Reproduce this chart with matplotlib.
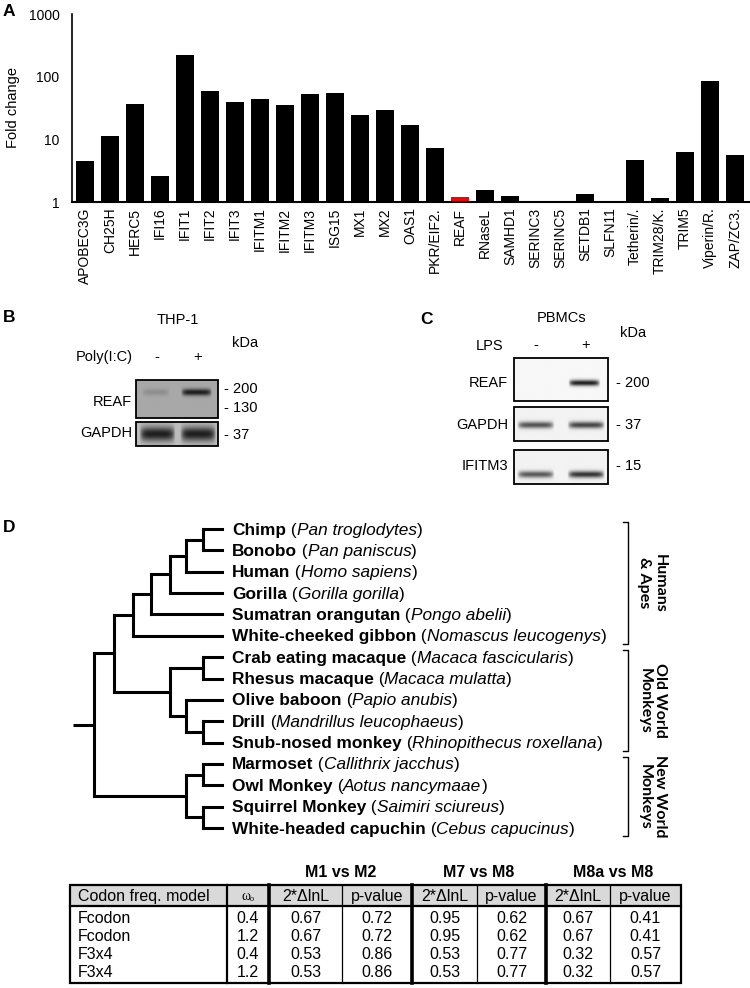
import numpy as np
import matplotlib.pyplot as plt
from matplotlib.patches import Rectangle

plt.rcParams['font.family'] = ['Liberation Sans', 'DejaVu Sans']

# ---- panel A: fold change of ISGs
genes = ['APOBEC3G', 'CH25H', 'HERC5', 'IFI16', 'IFIT1', 'IFIT2', 'IFIT3', 'IFITM1',
         'IFITM2', 'IFITM3', 'ISG15', 'MX1', 'MX2', 'OAS1', 'PKR/EIF2.', 'REAF',
         'RNaseL', 'SAMHD1', 'SERINC3', 'SERINC5', 'SETDB1', 'SLFN11', 'Tetherin/.',
         'TRIM28/K.', 'TRIM5', 'Viperin/R.', 'ZAP/ZC3.']
fold = [4.5, 11.5, 36, 2.6, 223, 59, 39, 44, 35, 52, 55, 24.6, 29, 16.8, 7.2, 1.2,
        1.58, 1.25, 1.02, 1.0, 1.34, 1.04, 4.67, 1.16, 6.3, 86, 5.7]
highlight = 'REAF'

# ---- panels B and C: blot band intensities (lane -, lane +)
thp1_reaf = [0.10, 0.55]
thp1_gapdh = [0.62, 0.62]
pbmc_reaf = [0.0, 0.85]
pbmc_gapdh = [0.62, 0.68]
pbmc_ifitm3 = [0.6, 0.75]

# ---- panel D: primate tree
common = ['Chimp', 'Bonobo', 'Human', 'Gorilla', 'Sumatran orangutan',
          'White-cheeked gibbon', 'Crab eating macaque', 'Rhesus macaque',
          'Olive baboon', 'Drill', 'Snub-nosed monkey', 'Marmoset', 'Owl Monkey',
          'Squirrel Monkey', 'White-headed capuchin']
latin = ['Pan troglodytes', 'Pan paniscus', 'Homo sapiens', 'Gorilla gorilla',
         'Pongo abelii', 'Nomascus leucogenys', 'Macaca fascicularis', 'Macaca mulatta',
         'Papio anubis', 'Mandrillus leucophaeus', 'Rhinopithecus roxellana',
         'Callithrix jacchus', 'Aotus nancymaae', 'Saimiri sciureus', 'Cebus capucinus']
hominoids = ((((('Chimp', 'Bonobo'), 'Human'), 'Gorilla'), 'Sumatran orangutan'),
             'White-cheeked gibbon')
old_world = (('Crab eating macaque', 'Rhesus macaque'),
             ('Olive baboon', ('Drill', 'Snub-nosed monkey')))
new_world = (('Marmoset', 'Owl Monkey'), ('Squirrel Monkey', 'White-headed capuchin'))
tree = ((hominoids, old_world), new_world)
groups = ['Humans\n& Apes', 'Old World\nMonkeys', 'New World\nMonkeys']
group_span = [(0, 5), (6, 10), (11, 14)]

# ---- table
col_head = ['Codon freq. model', '\u03c9\u2092', '2*\u0394lnL', 'p-value',
            '2*\u0394lnL', 'p-value', '2*\u0394lnL', 'p-value']
tests = ['M1 vs M2', 'M7 vs M8', 'M8a vs M8']
codon_model = ['Fcodon', 'Fcodon', 'F3x4', 'F3x4']
omega0 = [0.4, 1.2, 0.4, 1.2]
m1m2_lnl = [0.67, 0.67, 0.53, 0.53]
m1m2_p = [0.72, 0.72, 0.86, 0.86]
m7m8_lnl = [0.95, 0.95, 0.53, 0.53]
m7m8_p = [0.62, 0.62, 0.77, 0.77]
m8a_lnl = [0.67, 0.67, 0.32, 0.32]
m8a_p = [0.41, 0.41, 0.57, 0.57]

fig = plt.figure(figsize=(7.5, 9.88), dpi=100)
# full-figure canvas in pixel units for the non-chart panels
ax0 = fig.add_axes([0, 0, 1, 1])
ax0.set_xlim(0, 750)
ax0.set_ylim(988, 0)
ax0.axis('off')

W, H = 750, 988

# ---------------- A
ax = fig.add_axes([72 / W, 1 - 202 / H, (749 - 72) / W, (202 - 14) / H])
ax.set_facecolor('none')
x = np.arange(len(genes))
colors = ['#ff0000' if g == highlight else 'black' for g in genes]
ax.bar(x, np.array(fold) - 1, bottom=1, width=0.69, color=colors)
ax.set_yscale('log')
ax.set_ylim(1, 1000)
ax.set_xlim(-0.52, len(genes) - 0.44)
ax.set_yticks([1, 10, 100, 1000])
ax.set_yticklabels(['1', '10', '100', '1000'], fontsize=10)
ax.minorticks_off()
ax.set_xticks(x)
ax.set_xticklabels(genes, rotation=90, fontsize=10)
ax.tick_params(axis='y', length=0, pad=9)
ax.tick_params(axis='x', length=0, pad=4)
for s in ['top', 'right']:
    ax.spines[s].set_visible(False)
ax.spines['left'].set_linewidth(1.2)
ax.spines['bottom'].set_linewidth(1.5)
ax0.text(13, 108, 'Fold change', rotation=90, ha='center', va='center', fontsize=10.5)


def panel_letter(xp, yp, s):
    ax0.text(xp, yp, s, fontsize=12.5, fontweight='bold', ha='left', va='baseline')


panel_letter(3, 16, 'A')
panel_letter(3, 322, 'B')
panel_letter(420, 324, 'C')
panel_letter(3, 532, 'D')


def blot(x0, x1, y0, y1, bg, band_y, band_h, lanes, dark):
    h, w = 90, 180
    yy = np.linspace(0, 1, h)[:, None]
    xx = np.linspace(0, 1, w)[None, :]
    img = np.full((h, w), bg)
    for (c, half), d in zip(lanes, dark):
        xprof = np.clip(1 - ((xx - c) / half) ** 6, 0, 1)
        yprof = np.exp(-((yy - band_y) / band_h) ** 2)
        img = img - d * xprof * yprof
    ax0.imshow(img, cmap='gray', vmin=0, vmax=1, extent=(x0, x1, y1, y0),
               aspect='auto', interpolation='bilinear', zorder=1)
    ax0.add_patch(Rectangle((x0, y0), x1 - x0, y1 - y0, fill=False, lw=1.3,
                            ec='black', zorder=2))


# ---------------- B
fs = 10.5
ax0.text(178, 320, 'THP-1', ha='center', va='center', fontsize=fs)
ax0.text(232, 343, 'kDa', ha='left', va='center', fontsize=fs)
ax0.text(133, 357, 'Poly(I:C)', ha='right', va='center', fontsize=fs)
ax0.text(157, 357, '-', ha='center', va='center', fontsize=fs)
ax0.text(198, 357, '+', ha='center', va='center', fontsize=fs)
blot(136, 218, 380, 418, 0.66, 0.32, 0.09, [(0.24, 0.17), (0.74, 0.19)], thp1_reaf)
blot(136, 218, 422, 446, 0.74, 0.5, 0.3, [(0.26, 0.22), (0.76, 0.22)], thp1_gapdh)
ax0.text(132, 402, 'REAF', ha='right', va='center', fontsize=fs)
ax0.text(132, 433, 'GAPDH', ha='right', va='center', fontsize=fs)
ax0.text(224, 389, '- 200', ha='left', va='center', fontsize=fs)
ax0.text(224, 408, '- 130', ha='left', va='center', fontsize=fs)
ax0.text(224, 435, '- 37', ha='left', va='center', fontsize=fs)

# ---------------- C
ax0.text(562, 318, 'PBMCs', ha='center', va='center', fontsize=fs)
ax0.text(620, 333, 'kDa', ha='left', va='center', fontsize=fs)
ax0.text(490, 346, 'LPS', ha='center', va='center', fontsize=fs)
ax0.text(536, 345, '-', ha='center', va='center', fontsize=fs)
ax0.text(586, 345, '+', ha='center', va='center', fontsize=fs)
blot(514, 608, 358, 401, 0.97, 0.58, 0.07, [(0.25, 0.2), (0.75, 0.17)], pbmc_reaf)
blot(514, 608, 407, 441, 0.95, 0.53, 0.1, [(0.23, 0.2), (0.77, 0.2)], pbmc_gapdh)
blot(514, 608, 450, 484, 0.95, 0.72, 0.1, [(0.23, 0.2), (0.77, 0.2)], pbmc_ifitm3)
ax0.text(508, 383, 'REAF', ha='right', va='center', fontsize=fs)
ax0.text(508, 425, 'GAPDH', ha='right', va='center', fontsize=fs)
ax0.text(508, 466, 'IFITM3', ha='right', va='center', fontsize=fs)
ax0.text(616, 383, '- 200', ha='left', va='center', fontsize=fs)
ax0.text(616, 425, '- 37', ha='left', va='center', fontsize=fs)
ax0.text(616, 466, '- 15', ha='left', va='center', fontsize=fs)

# ---------------- D  tree
leaf_y = {name: 529 + i * 21.36 for i, name in enumerate(common)}
node_x = [222, 203, 186, 170, 151, 133, 114, 94]
tlw = 2.2


def draw(node):
    if isinstance(node, str):
        return leaf_y[node], 0
    res = [draw(c) for c in node]
    ys = [r[0] for r in res]
    h = max(r[1] for r in res) + 1
    xn = node_x[h]
    for yc, hc in res:
        ax0.plot([xn, node_x[hc]], [yc, yc], color='black', lw=tlw,
                 solid_capstyle='projecting')
    ax0.plot([xn, xn], [min(ys), max(ys)], color='black', lw=tlw,
             solid_capstyle='projecting')
    return (min(ys) + max(ys)) / 2, h


root_y, root_h = draw(tree)
ax0.plot([73, node_x[root_h]], [root_y, root_y], color='black', lw=tlw,
         solid_capstyle='butt')

renderer = fig.canvas.get_renderer()


def rich(xp, yp, parts, size):
    for s, style in parts:
        t = ax0.text(xp, yp, s, fontsize=size, ha='left', va='baseline',
                     fontweight='bold' if style == 'b' else 'normal',
                     fontstyle='italic' if style == 'i' else 'normal')
        xp += t.get_window_extent(renderer=renderer).width


for name, lat in zip(common, latin):
    rich(232, leaf_y[name] + 5.5,
         [(name, 'b'), (' (', 'r'), (lat, 'i'), (')', 'r')], 12.4)

for lab, (a, b) in zip(groups, group_span):
    y0 = leaf_y[common[a]] - 7
    y1 = leaf_y[common[b]] + 8
    ax0.plot([623, 628, 628, 623], [y0, y0, y1, y1], color='black', lw=1.0)
    ax0.text(652, (y0 + y1) / 2, lab, rotation=270, ha='center', va='center',
             multialignment='center', fontsize=11.5, fontweight='bold',
             family=['Lato', 'DejaVu Sans'], linespacing=1.1)

# ---------------- table
cx = [70, 227, 269, 342, 412, 477, 546, 610, 681]
top, head_bot, bot = 885, 906, 983
row_y = [918, 936, 954, 972]
tfs = 11.5

for i, t in enumerate(tests):
    ax0.text((cx[2 + 2 * i] + cx[4 + 2 * i]) / 2, 872, t, ha='center', va='center',
             fontsize=11.5, fontweight='bold')

ax0.add_patch(Rectangle((cx[0], top), cx[-1] - cx[0], head_bot - top,
                        fc='#d9d9d9', ec='none', zorder=1))
for j, h in enumerate(col_head):
    hy = (top + head_bot) / 2 + 1
    if j == 0:
        ax0.text(cx[0] + 8, hy, h, ha='left', va='center', fontsize=tfs)
    elif j == 1:
        ax0.text((cx[j] + cx[j + 1]) / 2, hy, h, ha='center', va='center', fontsize=10,
                 family=['Liberation Serif', 'DejaVu Serif', 'DejaVu Sans'])
    else:
        ax0.text((cx[j] + cx[j + 1]) / 2, hy, h, ha='center', va='center', fontsize=tfs)

cols = [m1m2_lnl, m1m2_p, m7m8_lnl, m7m8_p, m8a_lnl, m8a_p]
for r in range(len(codon_model)):
    ax0.text(cx[0] + 8, row_y[r], codon_model[r], ha='left', va='center', fontsize=tfs)
    ax0.text((cx[1] + cx[2]) / 2, row_y[r], f'{omega0[r]:.1f}', ha='center',
             va='center', fontsize=tfs)
    for k, col in enumerate(cols):
        ax0.text((cx[2 + k] + cx[3 + k]) / 2, row_y[r], f'{col[r]:.2f}', ha='center',
                 va='center', fontsize=tfs)

ax0.add_patch(Rectangle((cx[0], top), cx[-1] - cx[0], bot - top, fill=False,
                        ec='black', lw=1.6, zorder=3))
ax0.plot([cx[0], cx[-1]], [head_bot, head_bot], color='black', lw=1.6, zorder=3)
for j in range(1, len(cx) - 1):
    lw = 2.6 if j in (2, 4, 6) else (1.6 if j == 1 else 0.9)
    ax0.plot([cx[j], cx[j]], [top, bot], color='black', lw=lw, zorder=3)

ax0.set_xlim(0, 750)
ax0.set_ylim(988, 0)
fig.savefig('out.png', dpi=100)
